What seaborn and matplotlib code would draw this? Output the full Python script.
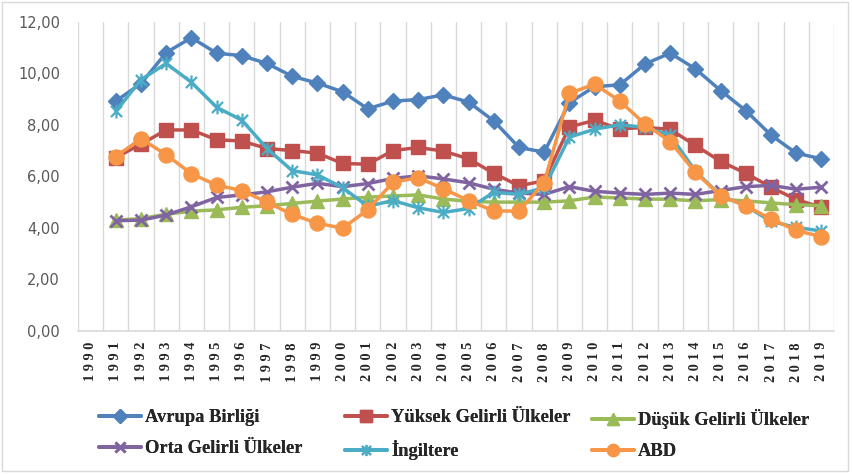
import numpy as np
import pandas as pd
import matplotlib
matplotlib.use("Agg")
import matplotlib.pyplot as plt
import seaborn as sns
from matplotlib.path import Path
from matplotlib.patches import Rectangle
from matplotlib.lines import Line2D

years = list(range(1990, 2020))
nan = np.nan

avrupa = [nan, 8.92, 9.6, 10.8, 11.38, 10.78, 10.68, 10.38, 9.88, 9.62, 9.28, 8.62,
          8.92, 8.98, 9.16, 8.88, 8.15, 7.12, 6.94, 8.86, 9.48, 9.55, 10.36, 10.78,
          10.17, 9.33, 8.55, 7.6, 6.9, 6.68]
yuksek = [nan, 6.73, 7.25, 7.8, 7.8, 7.42, 7.37, 7.08, 7.0, 6.9, 6.5, 6.47,
          7.0, 7.12, 6.98, 6.68, 6.12, 5.63, 5.83, 7.92, 8.17, 7.84, 7.9, 7.82,
          7.2, 6.58, 6.12, 5.58, 5.1, 4.8]
dusuk = [nan, 4.3, 4.36, 4.53, 4.65, 4.7, 4.8, 4.86, 4.95, 5.04, 5.12, 5.19,
         5.24, 5.28, 5.12, 5.03, 5.0, 5.0, 5.0, 5.05, 5.2, 5.16, 5.12, 5.11,
         5.05, 5.1, 5.05, 4.97, 4.9, 4.86]
orta = [nan, 4.28, 4.3, 4.5, 4.82, 5.18, 5.28, 5.4, 5.58, 5.73, 5.6, 5.72,
        5.92, 6.02, 5.9, 5.75, 5.5, 5.35, 5.3, 5.6, 5.42, 5.35, 5.3, 5.35,
        5.3, 5.45, 5.6, 5.65, 5.5, 5.58]
ingiltere = [nan, 8.52, 9.75, 10.38, 9.65, 8.68, 8.18, 7.08, 6.22, 6.06, 5.56, 4.84,
             5.06, 4.78, 4.6, 4.75, 5.38, 5.3, 5.56, 7.52, 7.83, 8.0, 7.9, 7.6,
             6.2, 5.25, 4.86, 4.25, 4.02, 3.88]
abd = [nan, 6.77, 7.46, 6.84, 6.1, 5.66, 5.45, 5.0, 4.52, 4.18, 3.99, 4.7,
       5.77, 5.95, 5.52, 5.06, 4.66, 4.65, 5.76, 9.22, 9.58, 8.92, 8.03, 7.35,
       6.15, 5.25, 4.85, 4.35, 3.9, 3.66]

series_names = ["Avrupa Birliği", "Yüksek Gelirli Ülkeler", "Düşük Gelirli Ülkeler",
                "Orta Gelirli Ülkeler", "İngiltere", "ABD"]
series_values = [avrupa, yuksek, dusuk, orta, ingiltere, abd]
y_ticks = [0, 2, 4, 6, 8, 10, 12]

colors = ["#4F81BD", "#C0504D", "#9BBB59", "#8064A2", "#4BACC6", "#F79646"]

star = Path([(-1, -1), (1, 1), (-1, 1), (1, -1), (0, -1.25), (0, 1.25)],
            [Path.MOVETO, Path.LINETO, Path.MOVETO, Path.LINETO, Path.MOVETO, Path.LINETO])
markers = ["D", "s", "^", "x", star, "o"]
msizes = [8.3, 10.2, 10, 8.5, 10, 10.8]
mews = [1, 1, 1, 2, 1.6, 1]

sns.set_style("white")
plt.rcParams["font.family"] = ["DejaVu Sans"]

fig = plt.figure(figsize=(8.52, 4.75), dpi=100)
ax = fig.add_axes([78 / 852, 1 - 331 / 475, (834 - 78) / 852, (331 - 21.7) / 475])

handles = []
for name, vals, c, m, ms, mew in zip(series_names, series_values, colors, markers, msizes, mews):
    df = pd.DataFrame({"year": years, "value": vals}).dropna()
    sns.lineplot(data=df, x="year", y="value", ax=ax, color=c, linewidth=2.5,
                 marker=m, markersize=ms, markeredgecolor=c, markerfacecolor=c,
                 markeredgewidth=mew, legend=False)
    handles.append(Line2D([], [], color=c, linewidth=2.8, marker=m, markersize=ms * 0.8,
                          markeredgecolor=c, markerfacecolor=c, markeredgewidth=mew))

ax.set_xlim(1989.5, 2019.5)
ax.set_ylim(0, 12)
ax.set_yticks(y_ticks)
ax.set_yticklabels([f"{v:.2f}".replace(".", ",") for v in y_ticks], color="#595959", fontsize=10.5)
ax.set_xticks(years)
ax.set_xticklabels([" ".join(str(y)) for y in years], rotation=90,
                   family="Liberation Serif", fontweight="bold", fontsize=10.3)
ax.set_xticks(np.arange(1989.5, 2020, 1), minor=True)
ax.grid(False)
ax.grid(True, which="minor", axis="x", color="#D9D9D9", linewidth=1.0)
ax.tick_params(axis="both", which="both", length=0)
ax.tick_params(axis="y", pad=13)
ax.tick_params(axis="x", pad=8)
ax.set_xlabel("")
ax.set_ylabel("")
for s in ["left", "top", "right"]:
    ax.spines[s].set_visible(False)
ax.spines["bottom"].set_color("#D9D9D9")
ax.spines["bottom"].set_linewidth(1.2)

# legend: three columns placed separately
col_x = [99, 345, 592]
col_entries = [[0, 3], [1, 4], [2, 5]]
for cx, idxs in zip(col_x, col_entries):
    leg = fig.legend([handles[i] for i in idxs], [series_names[i] for i in idxs],
                     loc="upper left", bbox_to_anchor=(cx / 852, 1 - 409 / 475),
                     frameon=False, borderpad=0, borderaxespad=0, handlelength=2.3,
                     handletextpad=0.2, labelspacing=0.78,
                     prop={"family": "Liberation Serif", "weight": "bold", "size": 13.3})
    fig.add_artist(leg)

fig.patches.append(Rectangle((2 / 852, 4 / 475), 846 / 852, 469 / 475, transform=fig.transFigure,
                             fill=False, edgecolor="#D9D9D9", linewidth=1.0))

fig.savefig("out.png", dpi=100)
